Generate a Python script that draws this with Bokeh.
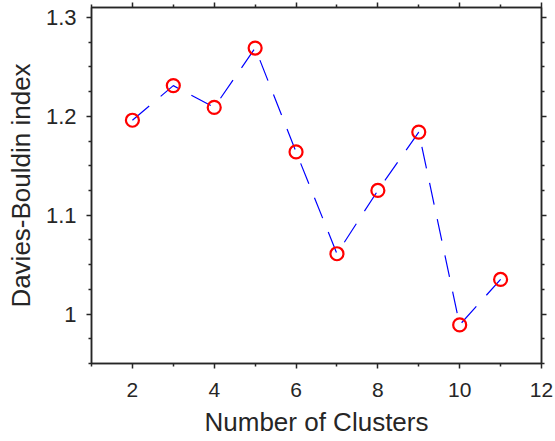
from bokeh.plotting import figure
from bokeh.models import LinearAxis, FixedTicker, CustomJSTickFormatter, ColumnDataSource
from bokeh.embed import file_html
from bokeh.resources import INLINE

clusters = [2, 3, 4, 5, 6, 7, 8, 9, 10, 11]
db_index = [1.196, 1.231, 1.209, 1.269, 1.164, 1.061, 1.125, 1.184, 0.989, 1.035]
x_major = [2, 4, 6, 8, 10, 12]
x_minor = [1, 3, 5, 7, 9, 11]
y_major = [1.0, 1.1, 1.2, 1.3]
y_minor = [0.95, 0.975, 1.025, 1.05, 1.075, 1.125, 1.15, 1.175, 1.225, 1.25, 1.275]

AX = "#262626"
FONT = "Liberation Sans"

src = ColumnDataSource(dict(x=clusters, y=db_index))

p = figure(width=555, height=441, output_backend="svg", toolbar_location=None,
           x_range=(1, 12), y_range=(0.95, 1.31),
           min_border_left=91, min_border_right=14, min_border_top=7, min_border_bottom=78,
           x_axis_location=None, y_axis_location=None)
p.xgrid.visible = False
p.ygrid.visible = False
p.outline_line_color = AX
p.outline_line_width = 1.5
p.background_fill_color = "white"
p.border_fill_color = "white"

fmt = CustomJSTickFormatter(code="return String(Math.round(tick*10)/10);")

def style(ax, labels=True):
    ax.axis_line_color = AX
    ax.axis_line_width = 1.5
    ax.major_tick_line_color = AX
    ax.minor_tick_line_color = AX
    ax.major_tick_line_width = 1.5
    ax.minor_tick_line_width = 1.5
    ax.major_tick_in = 0
    ax.major_tick_out = 5
    ax.minor_tick_in = 0
    ax.minor_tick_out = 3
    ax.major_label_text_font = FONT
    ax.major_label_text_font_size = "21px"
    ax.major_label_text_color = AX
    ax.axis_label_text_font = FONT
    ax.axis_label_text_font_size = "26px"
    ax.axis_label_text_font_style = "normal"
    ax.axis_label_text_color = AX
    if not labels:
        ax.major_label_text_alpha = 0
        ax.major_label_text_font_size = "0px"
        ax.major_label_standoff = 0

xb = LinearAxis(ticker=FixedTicker(ticks=x_major, minor_ticks=x_minor), axis_label="Number of Clusters")
style(xb)
xb.major_label_standoff = 14
xb.axis_label_standoff = 7
p.add_layout(xb, "below")

xt = LinearAxis(ticker=FixedTicker(ticks=x_major, minor_ticks=x_minor))
style(xt, labels=False)
p.add_layout(xt, "above")

yl = LinearAxis(ticker=FixedTicker(ticks=y_major, minor_ticks=y_minor), axis_label="Davies-Bouldin index",
                formatter=fmt)
style(yl)
yl.major_label_text_font_size = "22px"
yl.major_label_standoff = 10
yl.axis_label_standoff = 7
p.add_layout(yl, "left")

yr = LinearAxis(ticker=FixedTicker(ticks=y_major, minor_ticks=y_minor), formatter=fmt)
style(yr, labels=False)
p.add_layout(yr, "right")

p.line("x", "y", source=src, line_color="#0000FF", line_width=1.2, line_dash="22 15")
p.scatter("x", "y", source=src, marker="circle", size=13, line_color="#FF0000", line_width=2.2,
          fill_color=None)

open("out.html", "w").write(file_html(p, INLINE))
